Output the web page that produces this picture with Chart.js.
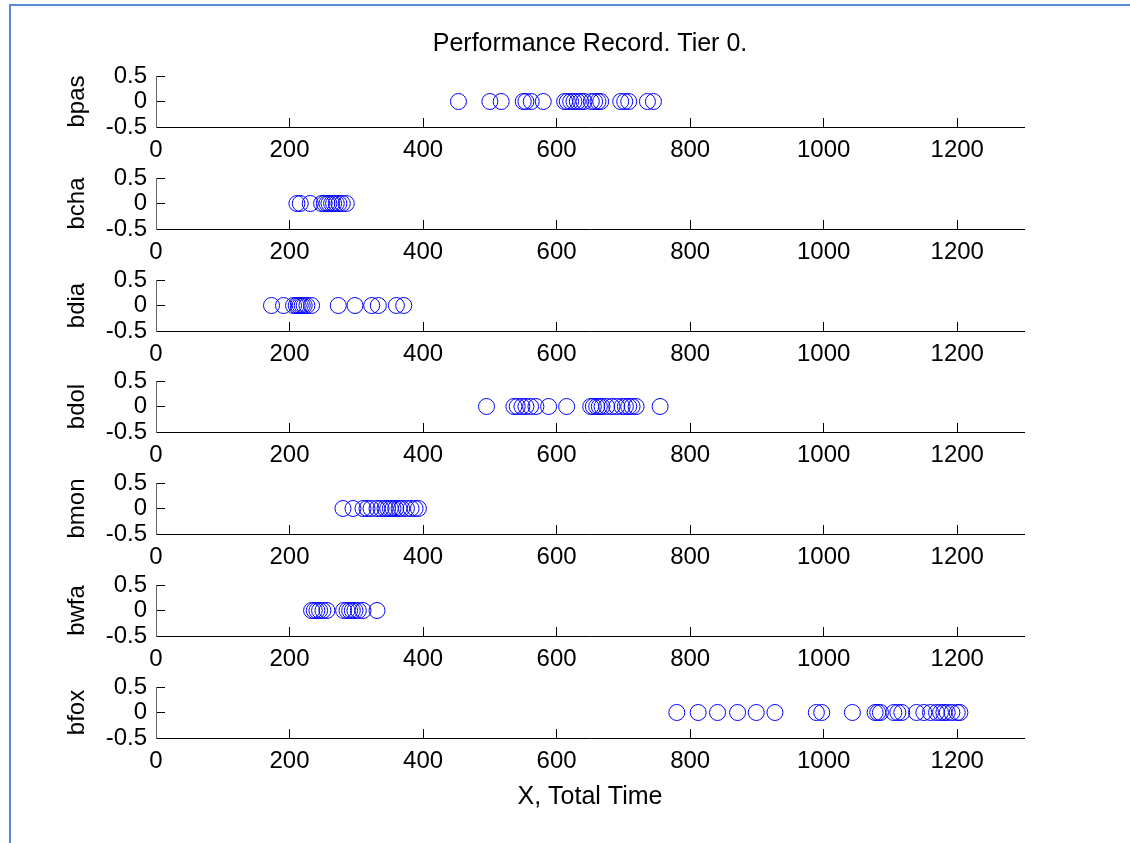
<!DOCTYPE html>
<html>
<head>
<meta charset="utf-8">
<script src="https://cdn.jsdelivr.net/npm/chart.js@4/dist/chart.umd.min.js"></script>
<style>
  html, body { margin: 0; padding: 0; background: #fff; }
  body { width: 1130px; height: 843px; position: relative; overflow: hidden; }
  #frame {
    position: absolute; left: 9px; top: 4px; width: 1200px; height: 900px;
    border-left: 2px solid #5b8ccf; border-top: 2px solid #5b8ccf;
  }
  canvas { position: absolute; left: 0; }
</style>
</head>
<body>
<div id="frame"></div>
<script>
// Completion times per channel (x), all plotted on the zero level
const channels = ['bpas', 'bcha', 'bdia', 'bdol', 'bmon', 'bwfa', 'bfox'];
const bpas = [453, 500, 517, 550, 554, 562, 580, 612, 616, 621, 626, 631, 636, 641, 652, 657, 662, 666, 696, 702, 708, 736, 745];
const bcha = [211, 216, 231, 248, 252, 256, 259, 263, 266, 270, 274, 279, 285];
const bdia = [173, 191, 206, 210, 213, 216, 219, 222, 226, 233, 273, 298, 323, 333, 360, 371];
const bdol = [495, 536, 541, 548, 554, 561, 569, 588, 615, 651, 655, 660, 664, 668, 675, 683, 690, 698, 703, 708, 713, 719, 755];
const bmon = [280, 295, 310, 316, 322, 331, 337, 343, 347, 351, 355, 359, 364, 368, 375, 382, 388, 393];
const bwfa = [233, 237, 241, 245, 250, 256, 281, 286, 290, 294, 298, 303, 310, 331];
const bfox = [780, 812, 841, 871, 899, 927, 989, 997, 1043, 1077, 1081, 1085, 1105, 1111, 1117, 1139, 1150, 1160, 1169, 1175, 1180, 1185, 1192, 1200, 1204];
const series = [bpas, bcha, bdia, bdol, bmon, bwfa, bfox];
const level = 0;

const xTicks = [0, 200, 400, 600, 800, 1000, 1200];
const yTicks = [-0.5, 0, 0.5];
const xRange = [0, 1300];
const yRange = [-0.5, 0.5];
const chartTitle = 'Performance Record. Tier 0.';
const xAxisTitle = 'X, Total Time';

// Figure geometry (pixels)
const W = 1130;
const plotLeft = 156, plotRight = 1024, plotH = 51;
const firstAxis = 127, axisStep = 101.83;
const titleLeftPad = 59;

Chart.defaults.font.family = "'Liberation Sans', Arial, Helvetica, sans-serif";
Chart.defaults.color = '#000';

series.forEach((values, i) => {
  const isFirst = i === 0, isLast = i === series.length - 1;
  const axisBottom = Math.round(firstAxis + i * axisStep);
  const above = isFirst ? 76 : 16;          // space above the plot area
  const xH = isLast ? 78 : 44;              // height of the x axis block
  const canvas = document.createElement('canvas');
  canvas.width = W;
  canvas.height = above + plotH + xH;
  canvas.style.top = (axisBottom - plotH - above) + 'px';
  canvas.style.width = W + 'px';
  canvas.style.height = canvas.height + 'px';
  document.body.appendChild(canvas);

  const tickGrid = { display: true, drawOnChartArea: false, drawTicks: true, tickLength: -9, color: '#000', lineWidth: 1 };

  new Chart(canvas, {
    type: 'scatter',
    data: {
      datasets: [{
        data: values.map(v => ({ x: v, y: level })),
        pointStyle: 'circle',
        pointRadius: 8,
        pointBorderWidth: 1,
        pointBorderColor: '#0000ff',
        pointBackgroundColor: 'rgba(0,0,0,0)',
        showLine: false
      }]
    },
    options: {
      responsive: false,
      animation: false,
      devicePixelRatio: 1,
      events: [],
      layout: { padding: { left: titleLeftPad, right: W - plotRight, top: isFirst ? 0 : above, bottom: 0 } },
      plugins: {
        legend: { display: false },
        tooltip: { enabled: false },
        title: {
          display: isFirst, text: chartTitle, fullSize: false, color: '#000',
          font: { size: 25, weight: 'normal' }, padding: { top: 29, bottom: 17 }
        }
      },
      scales: {
        x: {
          type: 'linear', position: 'bottom', min: xRange[0], max: xRange[1],
          afterBuildTicks: s => { s.ticks = xTicks.map(v => ({ value: v })); },
          afterFit: s => { s.height = xH; s.paddingLeft = 0; s.paddingRight = 0; },
          grid: tickGrid,
          border: { display: true, color: '#000', width: 1 },
          ticks: { padding: 17.6, color: '#000', font: { size: 24 }, autoSkip: false, maxRotation: 0, callback: v => String(v) },
          title: { display: isLast, text: xAxisTitle, color: '#000', font: { size: 25 }, padding: { top: 4, bottom: 4 } }
        },
        y: {
          type: 'linear', position: 'left', min: yRange[0], max: yRange[1],
          afterBuildTicks: s => { s.ticks = yTicks.map(v => ({ value: v })); },
          afterFit: s => { s.width = plotLeft - titleLeftPad; s.paddingTop = 0; s.paddingBottom = 0; },
          grid: tickGrid,
          border: { display: true, color: '#666', width: 1 },
          ticks: { padding: 18, color: '#000', font: { size: 24 }, autoSkip: false, callback: v => String(v) },
          title: { display: true, text: channels[i], color: '#000', font: { size: 24 }, padding: { top: 4, bottom: 4 } }
        }
      }
    }
  });
});
</script>
</body>
</html>
